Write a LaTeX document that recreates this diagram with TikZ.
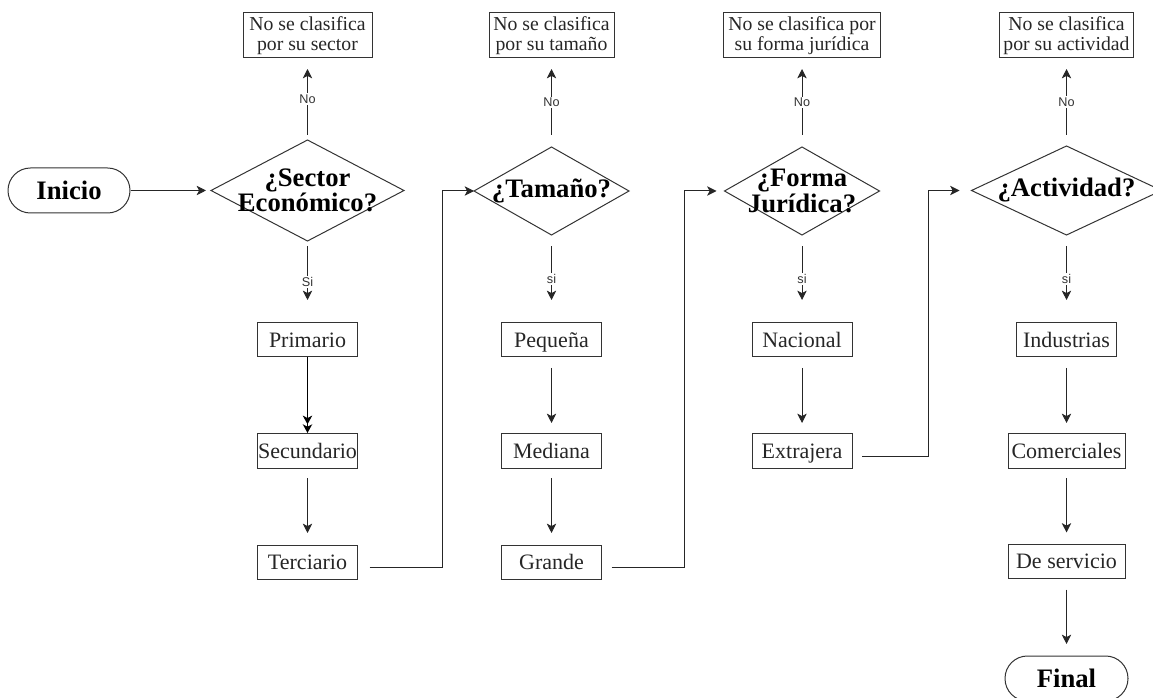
\documentclass[tikz,border=0pt]{standalone}
\usepackage{fontspec}
\setmainfont{Liberation Serif}
\setsansfont{Liberation Sans}
\usetikzlibrary{shapes.geometric,arrows.meta}

\begin{document}
\begin{tikzpicture}[x=0.75pt,y=-0.75pt,
  every node/.style={inner sep=0pt, outer sep=0pt},
  term/.style={draw=black!80, line width=0.75pt, rounded corners=16.8pt,
    minimum width=91.5pt, minimum height=33.75pt, text height=13.3pt, text depth=0pt,
    font=\bfseries\fontsize{20}{20}\selectfont},
  dia/.style={diamond, draw=black!80, line width=0.75pt},
  dtxt/.style={align=center, font=\bfseries\fontsize{20}{14.5}\selectfont},
  box/.style={draw=black!80, line width=0.75pt, minimum width=75pt,
    minimum height=25.5pt, text height=12.9pt, text depth=2pt, text=black!85,
    font=\fontsize{16.5}{18}\selectfont},
  note/.style={draw=black!80, line width=0.75pt, minimum height=33.75pt,
    align=center, text=black!85, font=\fontsize{14.8}{15.5}\selectfont},
  lbl/.style={fill=white, inner sep=1pt, text=black!80,
    font=\sffamily\fontsize{9.5}{10}\selectfont},
  arr/.style={draw=black!85, line width=0.75pt,
    -{Stealth[length=7pt,width=7pt,inset=1.8pt]}},
  arrtwo/.style={draw=black, line width=1pt,
    -{Stealth[length=6.5pt,width=7pt,inset=1.8pt]Stealth[length=6.5pt,width=7pt,inset=1.8pt]}}
]
\useasboundingbox (0,0) rectangle (1153,698);

% start and end terminals
\node[term] (inicio) at (69,190.5) {Inicio};
\node[term, minimum width=92.25pt] (final) at (1066.5,678.5) {Final};

% decisions
\node[dia, minimum width=144.75pt, minimum height=75.75pt] (d1) at (307.5,190.5) {};
\node[dtxt] (d1t) at (d1) {¿Sector\\Económico?};
\node[dia, minimum width=116.25pt, minimum height=66pt] (d2) at (551.5,191) {};
\node[dtxt] (d2t) at (d2) {¿Tamaño?};
\node[dia, minimum width=116.25pt, minimum height=66pt] (d3) at (802,191) {};
\node[dtxt] (d3t) at (d3) {¿Forma\\Jurídica?};
\node[dia, minimum width=142.5pt, minimum height=66.75pt] (d4) at (1066.5,190.5) {};
\node[dtxt] (d4t) at (d4) {¿Actividad?};

% "no" outcomes
\node[note, minimum width=96.75pt] (t1) at (307.5,35.5) {No se clasifica\\por su sector};
\node[note, minimum width=93.75pt] (t2) at (551.5,35.5) {No se clasifica\\por su tamaño};
\node[note, minimum width=117.75pt] (t3) at (802,35.5) {No se clasifica por\\su forma jurídica};
\node[note, minimum width=100.5pt] (t4) at (1066.5,35.5) {No se clasifica\\por su actividad};

% classifications
\node[box] (p1) at (307.5,340) {Primario};
\node[box] (s1) at (307.5,451) {Secundario};
\node[box] (te1) at (307.5,562) {Terciario};
\node[box] (p2) at (551.5,340) {Pequeña};
\node[box] (m2) at (551.5,451) {Mediana};
\node[box] (g2) at (551.5,562) {Grande};
\node[box] (n3) at (802,340) {Nacional};
\node[box] (e3) at (802,451) {Extrajera};
\node[box] (i4) at (1066.5,340) {Industrias};
\node[box, minimum width=87.75pt] (c4) at (1066.5,451) {Comerciales};
\node[box, minimum width=87.75pt] (ds4) at (1066.5,561.5) {De servicio};

% flow
\draw[arr, shorten <=0.75pt, shorten >=3.75pt] (inicio) -- (d1);

\draw[arr, shorten <=3.75pt, shorten >=8.25pt] (d1) -- node[lbl]{No} (t1);
\draw[arr, shorten <=9pt, shorten >=8.25pt] (d2) -- node[lbl]{No} (t2);
\draw[arr, shorten <=9pt, shorten >=8.25pt] (d3) -- node[lbl]{No} (t3);
\draw[arr, shorten <=8.25pt, shorten >=8.25pt] (d4) -- node[lbl]{No} (t4);

\draw[arr, shorten <=3.75pt, shorten >=17.25pt] (d1) -- node[lbl]{Si} (p1);
\draw[arr, shorten <=8.25pt, shorten >=17.25pt] (d2) -- node[lbl]{si} (p2);
\draw[arr, shorten <=8.25pt, shorten >=17.25pt] (d3) -- node[lbl]{si} (n3);
\draw[arr, shorten <=8.25pt, shorten >=17.25pt] (d4) -- node[lbl]{si} (i4);

\draw[arrtwo, shorten >=0.75pt] (p1) -- (s1);
\draw[arr, shorten <=7.5pt, shorten >=9pt] (s1) -- (te1);
\draw[arr, shorten <=8.25pt, shorten >=8.25pt] (p2) -- (m2);
\draw[arr, shorten <=7.5pt, shorten >=9pt] (m2) -- (g2);
\draw[arr, shorten <=8.25pt, shorten >=8.25pt] (n3) -- (e3);
\draw[arr, shorten <=8.25pt, shorten >=8.25pt] (i4) -- (c4);
\draw[arr, shorten <=7.5pt, shorten >=9pt] (c4) -- (ds4);
\draw[arr, shorten <=8.25pt, shorten >=9pt] (ds4) -- (final);

% links between columns
\draw[arr, shorten <=9pt] ([yshift=-4.1pt]te1.east) -- ++(85,0) |- (d2.west);
\draw[arr, shorten <=7.5pt, shorten >=6pt] ([yshift=-4.1pt]g2.east) -- ++(83,0) |- (d3.west);
\draw[arr, shorten <=7.5pt, shorten >=9pt] ([yshift=-4.1pt]e3.east) -- ++(76,0) |- (d4.west);
\end{tikzpicture}
\end{document}
